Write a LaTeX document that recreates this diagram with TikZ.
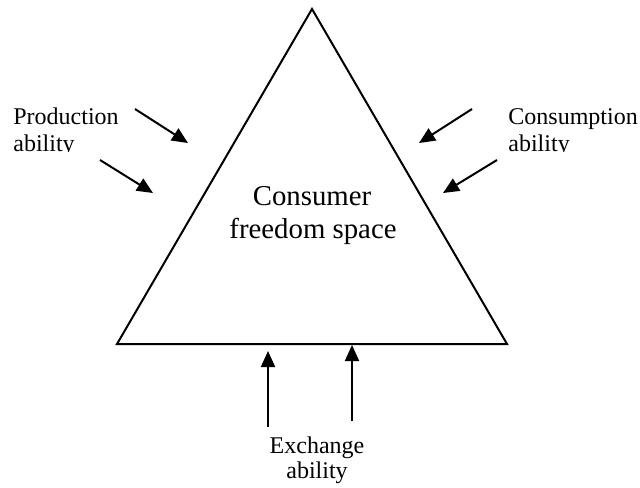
\documentclass[tikz,border=0pt]{standalone}
\usepackage{fontspec}
\setmainfont{Liberation Serif}
\usetikzlibrary{arrows.meta}
\begin{document}
\begin{tikzpicture}[x=0.5pt,y=-0.5pt,
  edge/.style={line width=1pt,line join=miter},
  arr/.style={line width=1pt,-{Triangle[length=8pt,width=7pt]}},
  lbl/.style={inner sep=0pt,font=\fontsize{12}{13}\selectfont},
  big/.style={inner sep=0pt,font=\fontsize{14.4}{16}\selectfont}]
\useasboundingbox (0,0) rectangle (640,487);
% triangle
\coordinate (A) at (312,9);
\coordinate (B) at (117,344);
\coordinate (C) at (507,344);
\draw[edge] (A) -- (B) -- (C) -- cycle;
% centre text
\node[big,anchor=base] (c1) at (312,205) {Consumer};
\node[big,anchor=base] (c2) at (313,238) {freedom space};
% side labels (clipped like the reference)
\begin{scope}
\clip (0,0) rectangle (640,151.5);
\node[lbl,anchor=base west] (p1) at (13,124) {Production};
\node[lbl,anchor=base west] (p2) at (13,151) {ability};
\node[lbl,anchor=base west] (q1) at (508,124) {Consumption};
\node[lbl,anchor=base west] (q2) at (508,151) {ability};
\end{scope}
% bottom label
\node[lbl,anchor=base] (e1) at (317,453) {Exchange};
\node[lbl,anchor=base] (e2) at (317,478) {ability};
% arrows
\coordinate (pa1) at (135,109); \coordinate (pt1) at (188,143);
\coordinate (pa2) at (100,160); \coordinate (pt2) at (153,193);
\coordinate (qa1) at (472,109); \coordinate (qt1) at (419,143);
\coordinate (qa2) at (497,160); \coordinate (qt2) at (443,193);
\coordinate (ea1) at (268,427); \coordinate (et1) at (268,351);
\coordinate (ea2) at (352,421); \coordinate (et2) at (352,345);
\draw[arr] (pa1) -- (pt1);
\draw[arr] (pa2) -- (pt2);
\draw[arr] (qa1) -- (qt1);
\draw[arr] (qa2) -- (qt2);
\draw[arr] (ea1) -- (et1);
\draw[arr] (ea2) -- (et2);
\end{tikzpicture}
\end{document}
